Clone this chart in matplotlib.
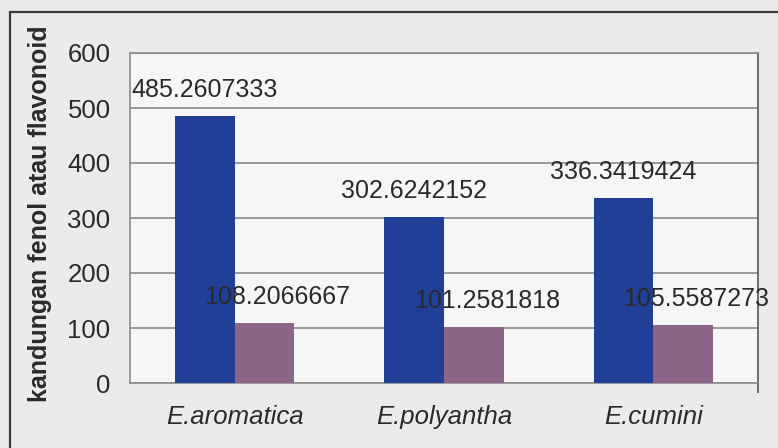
import numpy as np
import matplotlib
matplotlib.use("Agg")
import matplotlib.pyplot as plt
from matplotlib.patches import Rectangle

# kandungan fenol (biru) dan flavonoid (ungu) tiap spesies
species = ["E.aromatica", "E.polyantha", "E.cumini"]
fenol = [485.2607333, 302.6242152, 336.3419424]
flavonoid = [108.2066667, 101.2581818, 105.5587273]
labels_fenol = ["485.2607333", "302.6242152", "336.3419424"]
labels_flavonoid = ["108.2066667", "101.2581818", "105.5587273"]
yticks = [0, 100, 200, 300, 400, 500, 600]

plt.rcParams["font.family"] = ["Liberation Sans", "DejaVu Sans"]

fig = plt.figure(figsize=(7.78, 4.48), dpi=100, facecolor="#ebebeb")
ax = fig.add_axes([130 / 778, 65 / 448, 628 / 778, 330 / 448])
ax.set_facecolor("#f6f6f6")

x = np.arange(len(species))
w = 0.2857
b1 = ax.bar(x - w / 2, fenol, w, color="#223f98", zorder=3)
b2 = ax.bar(x + w / 2, flavonoid, w, color="#8b6689", zorder=3)

for rect, txt in zip(b1, labels_fenol):
    ax.annotate(txt, (rect.get_x() + rect.get_width() / 2, rect.get_height()),
                xytext=(0, 26), textcoords="offset pixels",
                ha="center", va="center", fontsize=18, color="#2a2a2a", zorder=4)
for rect, txt in zip(b2, labels_flavonoid):
    ax.annotate(txt, (rect.get_x() + rect.get_width() / 2, rect.get_height()),
                xytext=(13, 26), textcoords="offset pixels",
                ha="center", va="center", fontsize=18, color="#2a2a2a", zorder=4)

ax.set_xlim(-0.5, len(species) - 0.5)
ax.set_ylim(0, 600)
ax.set_yticks(yticks)
ax.set_yticklabels([str(v) for v in yticks], fontsize=18.5, color="#2a2a2a")
ax.tick_params(axis="y", length=0, pad=14)
ax.yaxis.grid(True, color="#8a8a8a", lw=1.2, zorder=1)

ax.set_xticks(x)
ax.set_xticklabels(species, fontsize=18.5, style="italic", color="#2a2a2a")
ax.set_xticks([len(species) - 0.5], minor=True)
ax.tick_params(axis="x", which="major", length=0, pad=16)
ax.tick_params(axis="x", which="minor", length=7, color="#555555", width=1.2)

for side in ["top", "left", "bottom"]:
    ax.spines[side].set_color("#8a8a8a")
    ax.spines[side].set_linewidth(1.2)
ax.spines["right"].set_color("#555555")
ax.spines["right"].set_linewidth(1.2)

fig.text(40 / 778, 0.522, "kandungan fenol atau flavonoid", rotation=90,
         ha="center", va="center", fontsize=18, fontweight="bold", color="#2a2a2a")

# bingkai area grafik
fig.patches.append(Rectangle((10 / 778, -0.05), 1.05, 0.05 + 436 / 448,
                             transform=fig.transFigure, fill=False,
                             edgecolor="#3a3a3a", lw=1.6))

fig.savefig("out.png", dpi=100, facecolor=fig.get_facecolor())
